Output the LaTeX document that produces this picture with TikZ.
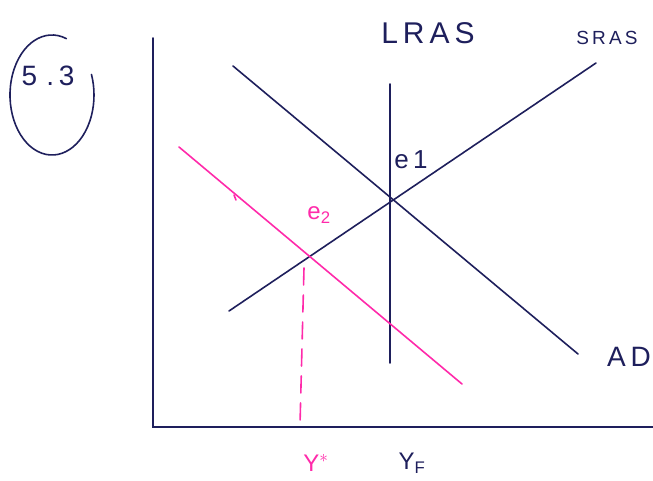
\documentclass[tikz,border=0pt]{standalone}
\usepackage{fontspec}
\setmainfont{Liberation Sans}
\definecolor{ink}{HTML}{1E1F5C}
\definecolor{hot}{HTML}{FF2AAA}
\begin{document}
\begin{tikzpicture}[x=1pt,y=-1pt,
  pen/.style={draw=ink,line width=1.6pt,line cap=round},
  pinkpen/.style={draw=hot,line width=1.6pt,line cap=round},
  lbl/.style={text=ink,inner sep=0pt,font=\fontsize{24}{24}\selectfont},
  plbl/.style={text=hot,inner sep=0pt,font=\fontsize{22}{22}\selectfont}]
\useasboundingbox (0,0) rectangle (653,481);
% axes
\coordinate (ytop) at (153,38);
\coordinate (orig) at (153,427);
\coordinate (xend) at (653,427);
\draw[pen] (ytop) -- (orig) -- (xend);
% LRAS
\coordinate (lt) at (390,84);
\coordinate (lb) at (390,363);
\draw[pen] (lt) -- (lb);
% AD
\coordinate (adA) at (233,66);
\coordinate (adB) at (578,354);
\draw[pen] (adA) -- (adB);
% SRAS
\coordinate (srA) at (229,311);
\coordinate (srB) at (596,63);
\draw[pen] (srA) -- (srB);
% AD2
\coordinate (pdA) at (179,147);
\coordinate (pdB) at (462,384);
\draw[pinkpen] (pdA) -- (pdB);
\coordinate (tk1) at (234,195);
\coordinate (tk2) at (236,200);
\draw[pinkpen] (tk1) -- (tk2);
% dashed
\coordinate (e2) at (305,257);
\coordinate (ystar) at (300,425);
\draw[pinkpen,dash pattern=on 17pt off 10pt] (304,268) -- (ystar);
% labels
\node[lbl,font=\fontsize{30}{30}\selectfont] (lras) at (428,33) {L\,R\,A\,S};
\node[lbl,font=\fontsize{19}{19}\selectfont] (sras) at (607,38) {S\,R\,A\,S};
\node[lbl,font=\fontsize{26}{26}\selectfont] (e1l) at (411,160) {e\,1};
\node[plbl,font=\fontsize{24}{24}\selectfont] (e2l) at (319,215) {e$_{\mathrm{2}}$};
\node[lbl,font=\fontsize{28}{28}\selectfont] (adl) at (629,357) {A\,D};
\node[plbl,font=\fontsize{24}{24}\selectfont] (ysl) at (316,463) {Y$^{*}$};
\node[lbl,font=\fontsize{24}{24}\selectfont] (yfl) at (412,463) {Y$_{\mathrm{F}}$};
% 5.3 circled
\node[lbl,font=\fontsize{28}{28}\selectfont] (num) at (48,76) {5\,\,.\,3};
\coordinate (oc) at (52,95);
\draw[pen] (oc) ++(-70:42 and 60) arc[start angle=-70,end angle=-380,x radius=42,y radius=60];
\end{tikzpicture}
\end{document}
